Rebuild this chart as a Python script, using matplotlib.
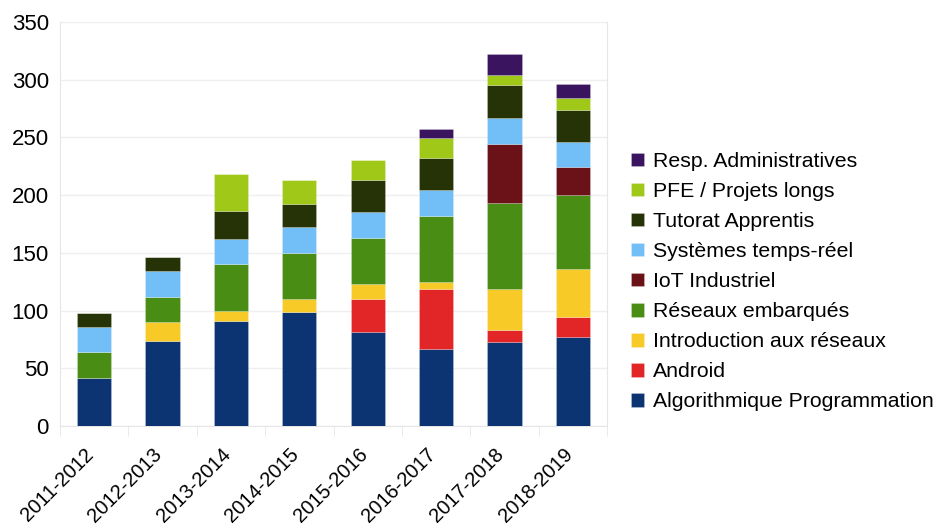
import numpy as np
import matplotlib.pyplot as plt
import matplotlib.transforms as mtransforms

years = ["2011-2012", "2012-2013", "2013-2014", "2014-2015",
         "2015-2016", "2016-2017", "2017-2018", "2018-2019"]

# bottom -> top
algo = [42, 74, 91, 99, 81, 67, 73, 77]
android = [0, 0, 0, 0, 29, 52, 10, 17]
intro_reseaux = [0, 16, 9, 11, 13, 6, 36, 42]
reseaux_emb = [22, 22, 40, 40, 40, 57, 74, 64]
iot = [0, 0, 0, 0, 0, 0, 51, 24]
systemes = [22, 22, 22, 22, 22, 22, 23, 22]
tutorat = [12, 12, 24, 20, 28, 28, 28, 28]
pfe = [0, 0, 32, 21, 17, 17, 9, 10]
resp_admin = [0, 0, 0, 0, 0, 8, 18, 12]

series = [
    ("Algorithmique Programmation", algo, "#0c3473"),
    ("Android", android, "#e22628"),
    ("Introduction aux réseaux", intro_reseaux, "#f8ca28"),
    ("Réseaux embarqués", reseaux_emb, "#4a8d14"),
    ("IoT Industriel", iot, "#6b1219"),
    ("Systèmes temps-réel", systemes, "#72bff8"),
    ("Tutorat Apprentis", tutorat, "#263306"),
    ("PFE / Projets longs", pfe, "#a0c818"),
    ("Resp. Administratives", resp_admin, "#3b1460"),
]

plt.rcParams['font.family'] = ['Liberation Sans', 'DejaVu Sans']

fig = plt.figure(figsize=(9.4, 5.29), dpi=100)
ax = fig.add_axes([0.0638, 0.1947, 0.582, 0.764])

x = np.arange(len(years))
bottom = np.zeros(len(years))
handles = []
for name, vals, color in series:
    vals = np.array(vals, dtype=float)
    b = ax.bar(x, vals, width=0.5, bottom=bottom, color=color, label=name,
               edgecolor=(1, 1, 1, 0.25), linewidth=0.6, zorder=3)
    handles.append(b)
    bottom += vals

ax.set_xlim(-0.5, len(years) - 0.5)
ax.set_ylim(0, 350)
ax.set_yticks(range(0, 351, 50))
ax.set_xticks(x)
ax.set_xticks(np.arange(-0.5, len(years), 1), minor=True)
ax.tick_params(axis="x", which="major", length=0, pad=10)
ax.tick_params(axis="x", which="minor", length=7, color="#e6e6e6")
ax.tick_params(axis="y", length=0, labelsize=16, pad=8)
ax.set_xticklabels(years, rotation=45, ha="right", rotation_mode="anchor", fontsize=14.5)
shift = mtransforms.ScaledTranslation(-10 / 100, -5 / 100, fig.dpi_scale_trans)
for lbl in ax.get_xticklabels():
    lbl.set_transform(lbl.get_transform() + shift)
ax.grid(axis="y", color="#efefef", linewidth=1, zorder=0)
for side in ["left", "right", "bottom", "top"]:
    ax.spines[side].set_color("#e6e6e6")
ax.spines["top"].set_visible(False)

leg = ax.legend(handles[::-1], [s[0] for s in series][::-1],
                loc="center left", bbox_to_anchor=(1.028, 0.357), frameon=False,
                fontsize=15.3, handlelength=0.6, handleheight=0.6,
                handletextpad=0.45, labelspacing=0.52, borderaxespad=0)

fig.savefig("out.png", dpi=100)
